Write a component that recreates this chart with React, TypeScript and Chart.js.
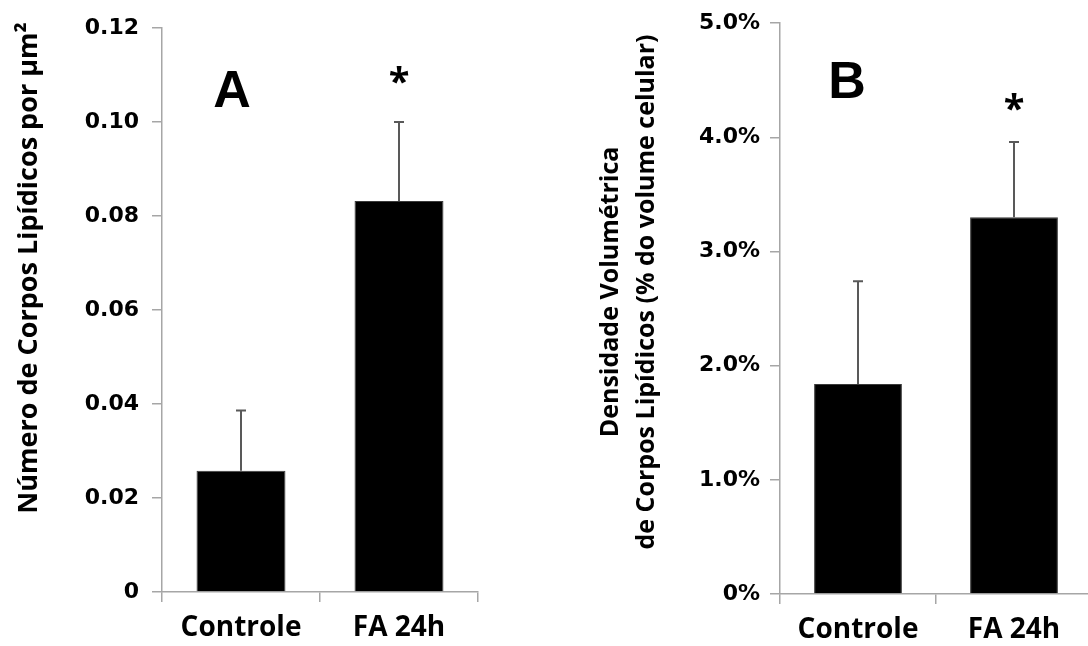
import React, { useEffect, useRef } from "react";
import { Chart, registerables } from "chart.js";

Chart.register(...registerables);

// ---- data ----
const categories = ["Controle", "FA 24h"];
const valuesA = [0.0258, 0.0832];
const errorsA = [0.0128, 0.0168];
const valuesB = [0.0184, 0.033];
const errorsB = [0.009, 0.0066];
const ticksA = [0, 0.02, 0.04, 0.06, 0.08, 0.1, 0.12];
const tickLabelsA = ["0", "0.02", "0.04", "0.06", "0.08", "0.10", "0.12"];
const ticksB = [0, 0.01, 0.02, 0.03, 0.04, 0.05];
const tickLabelsB = ["0%", "1.0%", "2.0%", "3.0%", "4.0%", "5.0%"];
const titleA = ["Número de Corpos Lipídicos por µm²"];
const titleB = ["Densidade Volumétrica", "de Corpos Lipídicos (% do volume celular)"];
const marks = ["", "*"];

const AXIS = "#a6a6a6";

type Panel = {
  values: number[];
  errors: number[];
  ticks: number[];
  tickLabels: string[];
  title: string[];
  titleSize: number;
  letter: string;
  letterX: number;
  letterY: number;
  markY: number;
  titleXs: number[];
  titleY: number;
  yWidth: number;
  xHeight: number;
  padTop: number;
  padRight: number;
  tickPad: number;
};

function makeChart(canvas: HTMLCanvasElement, p: Panel) {
  const overlay = {
    id: "overlay",
    afterDatasetsDraw(chart: any) {
      const ctx = chart.ctx as CanvasRenderingContext2D;
      const meta = chart.getDatasetMeta(0);
      const ys = chart.scales.y;
      ctx.save();
      ctx.strokeStyle = "#595959";
      ctx.lineWidth = 2;
      meta.data.forEach((bar: any, i: number) => {
        const top = ys.getPixelForValue(p.values[i] + p.errors[i]);
        ctx.beginPath();
        ctx.moveTo(bar.x, bar.y);
        ctx.lineTo(bar.x, top);
        ctx.moveTo(bar.x - 5, top);
        ctx.lineTo(bar.x + 5, top);
        ctx.stroke();
        if (marks[i]) {
          ctx.fillStyle = "#000";
          ctx.font = 'bold 38px "Open Sans"';
          ctx.textAlign = "center";
          ctx.textBaseline = "alphabetic";
          ctx.fillText(marks[i], bar.x, p.markY);
        }
      });
      ctx.fillStyle = "#000";
      ctx.font = 'bold 52px "Liberation Sans"';
      ctx.textAlign = "center";
      ctx.textBaseline = "alphabetic";
      ctx.fillText(p.letter, p.letterX, p.letterY);

      ctx.font = `bold ${p.titleSize}px "Open Sans"`;
      ctx.textBaseline = "middle";
      p.title.forEach((line, i) => {
        ctx.save();
        ctx.translate(p.titleXs[i], p.titleY);
        ctx.rotate(-Math.PI / 2);
        ctx.fillText(line, 0, 0);
        ctx.restore();
      });
      ctx.restore();
    },
  };

  return new Chart(canvas, {
    type: "bar",
    data: {
      labels: categories,
      datasets: [
        {
          data: p.values,
          backgroundColor: "#000000",
          borderColor: "#3a3a3a",
          borderWidth: 1,
          barPercentage: 0.563,
          categoryPercentage: 1,
        },
      ],
    },
    options: {
      animation: false,
      responsive: false,
      devicePixelRatio: 1,
      layout: { padding: { left: 0, top: p.padTop, right: p.padRight, bottom: 0 } },
      plugins: { legend: { display: false }, tooltip: { enabled: false } },
      scales: {
        x: {
          grid: { drawOnChartArea: false, offset: true, tickLength: 10, color: AXIS, lineWidth: 1.5 },
          border: { color: AXIS, width: 1.5 },
          ticks: {
            color: "#000",
            padding: 9,
            font: { family: "'Open Sans'", size: 28, weight: "bold" },
          },
          afterFit: (s: any) => {
            s.height = p.xHeight;
          },
        },
        y: {
          min: 0,
          max: p.ticks[p.ticks.length - 1],
          grid: { drawOnChartArea: false, tickLength: 10, color: AXIS, lineWidth: 1.5 },
          border: { color: AXIS, width: 1.5 },
          afterBuildTicks: (s: any) => {
            s.ticks = p.ticks.map((v) => ({ value: v }));
          },
          ticks: {
            color: "#000",
            padding: p.tickPad,
            font: { family: "'DejaVu Sans'", size: 22, weight: "bold" },
            callback: (_v: any, i: number) => p.tickLabels[i],
          },
          afterFit: (s: any) => {
            s.width = p.yWidth;
          },
        },
      },
    },
    plugins: [overlay],
  });
}

const panelA: Panel = {
  values: valuesA,
  errors: errorsA,
  ticks: ticksA,
  tickLabels: tickLabelsA,
  title: titleA,
  titleSize: 27,
  letter: "A",
  letterX: 232,
  letterY: 107,
  markY: 95,
  titleXs: [29],
  titleY: 268,
  yWidth: 162,
  xHeight: 54,
  padTop: 28,
  padRight: 62,
  tickPad: 13,
};

const panelB: Panel = {
  values: valuesB,
  errors: errorsB,
  ticks: ticksB,
  tickLabels: tickLabelsB,
  title: titleB,
  titleSize: 25,
  letter: "B",
  letterX: 287,
  letterY: 98,
  markY: 122,
  titleXs: [51, 87],
  titleY: 292,
  yWidth: 220,
  xHeight: 52,
  padTop: 22,
  padRight: 8,
  tickPad: 10,
};

export default function App() {
  const refA = useRef<HTMLCanvasElement>(null);
  const refB = useRef<HTMLCanvasElement>(null);
  useEffect(() => {
    const a = makeChart(refA.current!, panelA);
    const b = makeChart(refB.current!, panelB);
    return () => {
      a.destroy();
      b.destroy();
    };
  }, []);
  return (
    <div
      style={{
        position: "fixed",
        left: 0,
        top: 0,
        width: 1088,
        height: 646,
        overflow: "hidden",
        background: "#fff",
      }}
    >
      <canvas ref={refA} width={540} height={646} style={{ position: "absolute", left: 0, top: 0 }} />
      <canvas ref={refB} width={540} height={646} style={{ position: "absolute", left: 560, top: 0 }} />
    </div>
  );
}
